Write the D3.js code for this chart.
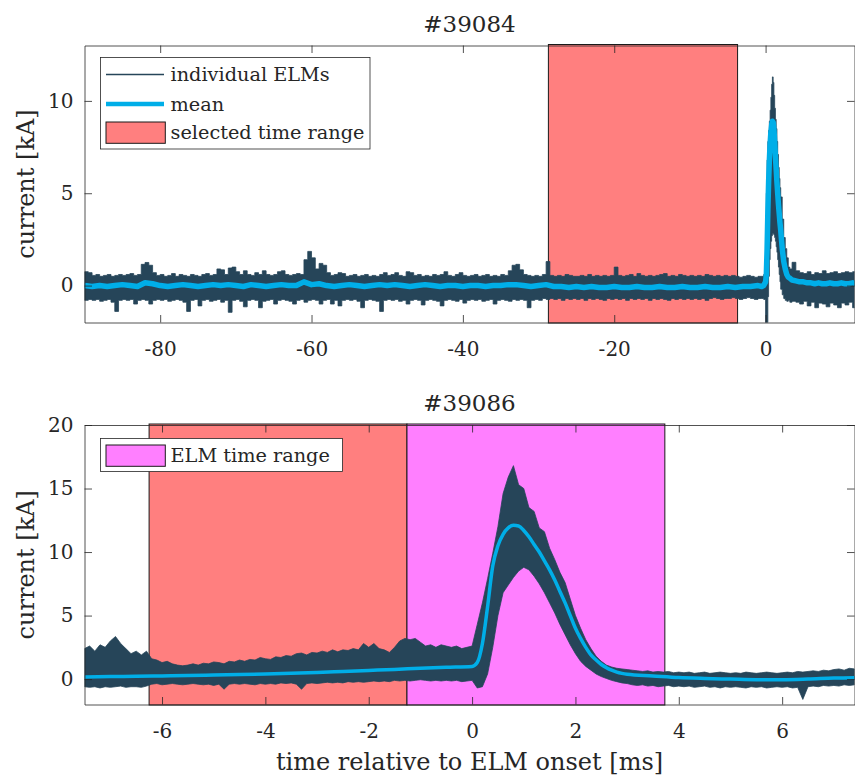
<!DOCTYPE html>
<html>
<head>
<meta charset="utf-8">
<script src="https://cdn.jsdelivr.net/npm/d3@7"></script>
<style>
  body { margin: 0; background: #fff; }
  text { font-family: "DejaVu Serif", serif; fill: #262626; }
</style>
</head>
<body>
<svg id="fig" width="855" height="776"></svg>
<script>
// ---- data: shot #39084 (top) ----
var preT1 = d3.range(-90, -0.75, 0.5);      // -90 .. -1 ms
var meanPreT1 = d3.range(-90, -0.5, 1);     // -90 .. -1 ms
var peakT1 = [-0.5, -0.25, 0, 0.1, 0.2, 0.3, 0.4, 0.5, 0.6, 0.7, 0.8, 0.9, 1.0, 1.1, 1.2, 1.3, 1.4, 1.5, 1.6, 1.7, 1.8, 1.9, 2.0, 2.2, 2.4, 2.6, 2.8, 3.0, 3.2];
var postT1 = d3.range(3.5, 12.25, 0.5);     // 3.5 .. 12 ms

var upperPre1 = [
  0.75, 0.7, 0.55, 0.6, 0.5, 0.55, 0.6, 0.5, 0.55, 0.6,
  0.55, 0.6, 0.65, 0.55, 0.6, 1.15, 1.25, 1.1, 0.7, 0.55,
  0.6, 0.5, 0.55, 0.65, 0.5, 0.6, 0.55, 0.5, 0.6, 0.55,
  0.5, 0.6, 0.65, 0.55, 0.6, 0.9, 0.85, 0.6, 0.95, 1.0,
  0.75, 0.6, 0.8, 0.6, 0.55, 0.7, 0.6, 0.8, 0.6, 0.55,
  0.6, 0.75, 0.8, 0.6, 0.55, 0.6, 0.65, 0.6, 1.4, 1.85,
  1.5, 0.9, 1.2, 1.1, 0.7, 0.55, 0.6, 0.7, 0.65, 0.5,
  0.55, 0.6, 0.5, 0.55, 0.6, 0.5, 0.55, 0.5, 0.6, 0.7,
  0.55, 0.6, 0.7, 0.55, 0.5, 0.75, 0.7, 0.55, 0.6, 0.5,
  0.55, 0.5, 0.6, 0.55, 0.6, 0.75, 0.55, 0.5, 0.6, 0.7,
  0.55, 0.5, 0.55, 0.6, 0.5, 0.55, 0.6, 0.5, 0.55, 0.5,
  0.6, 0.55, 0.8, 1.1, 1.15, 0.85, 0.6, 0.55, 0.5, 0.55,
  0.5, 0.6, 1.3, 0.55, 0.5, 0.55, 0.5, 0.6, 0.55, 0.5,
  0.5, 0.55, 0.5, 0.6, 0.5, 0.55, 0.5, 0.55, 0.5, 0.55,
  1.0, 0.55, 0.5, 0.55, 0.6, 0.5, 0.65, 0.55, 0.5, 0.55,
  0.5, 0.55, 0.6, 0.65, 0.5, 0.55, 0.5, 0.6, 0.55, 0.5,
  0.55, 0.5, 0.55, 0.5, 0.6, 0.55, 0.5, 0.55, 0.5, 0.55,
  0.5, 0.55, 0.5, 0.45, 0.5, 0.55, 0.5, 0.45, 0.5
];
var lowerPre1 = [
  -0.8, -0.75, -0.8, -0.75, -0.85, -0.8, -0.75, -0.9, -1.4, -0.8,
  -0.75, -0.8, -0.75, -1.0, -0.8, -0.75, -0.8, -1.0, -0.8, -0.75,
  -0.8, -0.75, -0.85, -0.8, -0.75, -0.8, -0.9, -1.4, -0.8, -0.75,
  -1.1, -0.8, -0.75, -0.85, -0.8, -0.75, -0.9, -0.8, -1.45, -0.8,
  -0.75, -0.85, -1.15, -0.8, -0.75, -0.8, -1.2, -0.85, -0.8, -0.75,
  -1.0, -0.8, -0.75, -0.8, -0.85, -1.0, -0.8, -0.75, -0.9, -0.8,
  -0.75, -0.8, -1.0, -0.8, -0.75, -1.0, -0.8, -1.1, -0.8, -0.75,
  -0.8, -0.75, -0.85, -1.2, -0.8, -0.75, -0.8, -0.85, -1.4, -0.8,
  -0.75, -0.8, -0.75, -0.85, -0.8, -1.0, -0.8, -0.75, -0.8, -1.05,
  -0.8, -0.75, -0.8, -0.85, -1.1, -0.8, -0.75, -0.8, -0.85, -0.75,
  -0.95, -0.8, -0.75, -0.8, -0.75, -0.85, -0.8, -0.75, -1.0, -0.8,
  -0.75, -0.8, -0.85, -0.75, -0.8, -0.75, -0.8, -1.2, -0.8, -0.75,
  -0.8, -0.7, -0.75, -0.7, -0.75, -0.7, -0.8, -0.7, -0.75, -0.7,
  -0.75, -0.7, -0.8, -0.7, -0.75, -0.7, -0.75, -0.8, -0.7, -0.75,
  -0.7, -0.75, -0.7, -0.8, -0.7, -0.75, -0.7, -0.75, -0.7, -0.8,
  -0.7, -0.75, -0.7, -0.75, -0.8, -0.7, -0.75, -0.7, -0.75, -0.7,
  -0.75, -0.7, -0.75, -0.7, -0.8, -0.7, -0.65, -0.7, -0.75, -0.7,
  -0.7, -0.65, -0.7, -0.75, -0.7, -0.65, -0.7, -0.75, -0.7
];
var meanPre1 = [
  0.0, -0.05, 0.0, -0.05, 0.0, 0.05, 0.0, -0.05, 0.15, 0.1,
  0.0, -0.05, 0.0, 0.05, 0.0, -0.05, 0.0, 0.05, 0.0, 0.05,
  0.0, -0.05, 0.05, 0.0, -0.05, 0.0, 0.05, 0.0, 0.0, 0.2,
  0.05, 0.1, 0.0, -0.05, 0.0, 0.05, 0.0, -0.05, 0.0, 0.05,
  0.0, 0.05, 0.0, -0.05, 0.0, 0.05, 0.0, -0.05, 0.0, 0.0,
  -0.05, 0.0, 0.0, -0.05, 0.0, 0.0, 0.05, 0.05, 0.0, -0.05,
  0.0, 0.05, -0.05, -0.05, -0.1, -0.05, -0.1, -0.05, -0.1, -0.1,
  -0.05, -0.1, -0.1, -0.05, -0.1, -0.1, -0.05, -0.1, -0.1, -0.05,
  -0.1, -0.1, -0.05, -0.1, -0.1, -0.05, -0.1, -0.05, -0.05, 0.0
];
var upperPeak1 = [0.5, 0.6, 2.5, 5.0, 6.8, 7.8, 8.4, 8.9, 9.5, 10.2, 10.9, 11.3, 11.0, 10.3, 9.6, 9.0, 8.5, 7.8, 7.1, 6.4, 5.8, 5.3, 4.8, 3.6, 2.6, 2.0, 1.5, 1.0, 0.9];
var meanPeak1 = [-0.05, 0.0, 0.2, 0.6, 2.0, 4.0, 5.6, 6.8, 7.7, 8.3, 8.7, 8.9, 8.85, 8.5, 7.8, 7.0, 6.3, 5.6, 5.0, 4.4, 3.9, 3.4, 3.0, 2.0, 1.3, 0.9, 0.6, 0.45, 0.4];
var lowerPeak1 = [-0.7, -0.75, -2.6, -2.6, -2.6, -0.6, 0.5, 1.4, 2.0, 2.4, 2.7, 2.8, 2.8, 2.75, 2.6, 2.4, 2.1, 1.8, 1.4, 1.0, 0.6, 0.2, -0.2, -0.5, -0.7, -0.8, -0.85, -0.8, -0.9];
var upperPost1 = [1.26, 0.8, 0.7, 0.65, 0.75, 0.6, 0.7, 0.65, 0.8, 0.65, 0.7, 0.75, 0.65, 0.7, 0.75, 0.7, 0.75, 0.7];
var meanPost1 = [0.3, 0.25, 0.2, 0.2, 0.15, 0.15, 0.1, 0.15, 0.1, 0.1, 0.15, 0.1, 0.1, 0.15, 0.1, 0.1, 0.15, 0.1];
var lowerPost1 = [-0.85, -0.9, -1.0, -0.85, -1.1, -0.9, -1.2, -0.95, -1.0, -1.15, -0.95, -1.05, -1.2, -0.95, -1.05, -0.9, -1.2, -1.0];
var selectedRange1 = [-28.7, -3.7];

// ---- data: shot #39086 (bottom) ----
var preT2 = d3.range(-7.5, -0.05, 0.1);     // -7.5 .. -0.1 ms
var peakT2 = d3.range(0, 3.05, 0.1);        // 0 .. 3.0 ms
var postT2 = d3.range(3.1, 7.45, 0.1);      // 3.1 .. 7.4 ms
var meanPreT2 = d3.range(-7.5, -0.25, 0.5); // -7.5 .. -0.5 ms
var meanPostT2 = d3.range(3.5, 7.75, 0.5);  // 3.5 .. 7.5 ms

var upperPre2 = [
  2.4, 2.6, 2.2, 2.7, 2.5, 3.0, 3.35, 2.8, 2.4, 2.0,
  2.2, 1.9, 2.2, 1.6, 1.5, 1.3, 1.4, 1.2, 1.1, 1.05,
  1.1, 1.2, 1.1, 1.25, 1.2, 1.35, 1.3, 1.2, 1.4, 1.35,
  1.5, 1.4, 1.55, 1.5, 1.7, 1.6, 1.55, 1.75, 1.7, 1.85,
  1.8, 2.0, 2.05, 1.9, 2.1, 2.05, 2.2, 2.1, 2.3, 2.15,
  2.3, 2.25, 2.4, 2.3, 2.8, 2.5, 2.8, 2.4, 2.3, 2.1,
  2.5, 3.0, 3.2, 3.1, 3.2, 2.9, 2.6, 2.7, 2.5, 2.7,
  2.6, 2.5, 2.6, 2.4, 2.5
];
var lowerPre2 = [
  -0.6, -0.65, -0.6, -0.7, -0.6, -0.65, -0.6, -0.55, -0.65, -0.6,
  -0.6, -0.65, -0.55, -0.4, -0.35, -0.45, -0.4, -0.35, -0.4, -0.45,
  -0.4, -0.35, -0.4, -0.45, -0.4, -0.5, -0.4, -0.8, -0.4, -0.35,
  -0.4, -0.35, -0.4, -0.45, -0.35, -0.4, -0.35, -0.4, -0.3, -0.35,
  -0.3, -0.4, -0.8, -0.35, -0.3, -0.35, -0.3, -0.25, -0.3, -0.25,
  -0.3, -0.2, -0.25, -0.2, -0.25, -0.2, -0.15, -0.2, -0.15, -0.2,
  -0.1, -0.15, -0.1, -0.15, -0.1, -0.05, -0.1, -0.15, -0.1, -0.15,
  -0.1, -0.15, -0.1, -0.2, -0.15
];
var meanPre2 = [0.17, 0.2, 0.22, 0.25, 0.28, 0.32, 0.36, 0.4, 0.45, 0.52, 0.6, 0.68, 0.76, 0.85, 0.93];
var upperPeak2 = [2.6, 4.3, 6.0, 7.9, 9.9, 12.0, 14.6, 15.9, 16.8, 15.3, 15.0, 13.5, 13.2, 11.9, 11.6, 10.3, 9.4, 8.4, 7.6, 6.3, 5.0, 4.0, 3.1, 2.4, 1.8, 1.4, 1.1, 0.95, 0.85, 0.8, 0.75];
var meanPeak2 = [1.0, 1.3, 2.8, 5.7, 8.9, 10.5, 11.4, 11.9, 12.1, 12.05, 11.7, 11.2, 10.6, 10.0, 9.3, 8.6, 7.8, 6.9, 6.0, 5.0, 4.0, 3.2, 2.5, 1.9, 1.5, 1.15, 0.9, 0.7, 0.55, 0.45, 0.38];
var lowerPeak2 = [-0.1, -0.7, -0.6, 0.4, 2.5, 5.0, 6.8, 7.4, 8.0, 8.5, 8.8, 8.6, 8.1, 7.5, 6.8, 6.0, 5.2, 4.3, 3.5, 2.7, 2.0, 1.4, 1.0, 0.7, 0.4, 0.2, 0.05, -0.1, -0.2, -0.3, -0.35];
var upperPost2 = [
  0.7, 0.65, 0.6, 0.65, 0.55, 0.6, 0.55, 0.6, 0.5, 0.55,
  0.5, 0.55, 0.45, 0.5, 0.55, 0.45, 0.5, 0.55, 0.5, 0.45,
  0.5, 0.45, 0.55, 0.5, 0.45, 0.5, 0.55, 0.5, 0.45, 0.5,
  0.55, 0.5, 0.6, 0.55, 0.6, 0.65, 0.6, 0.7, 0.65, 0.75,
  0.8, 0.7, 0.85, 0.8
];
var lowerPost2 = [
  -0.45, -0.5, -0.45, -0.55, -0.5, -0.6, -0.55, -0.5, -0.6, -0.55,
  -0.6, -0.55, -0.65, -0.6, -0.55, -0.65, -0.6, -0.7, -0.6, -0.65,
  -0.6, -0.65, -0.7, -0.6, -0.65, -0.6, -0.7, -0.65, -0.6, -0.65,
  -0.6, -0.7, -0.65, -1.6, -0.6, -0.55, -0.6, -0.5, -0.55, -0.5,
  -0.55, -0.45, -0.5, -0.45
];
var meanPost2 = [0.25, 0.12, 0.05, 0.0, -0.05, -0.05, 0.0, 0.08, 0.12];
var selectedRange2 = [-6.25, -1.26];
var elmRange2 = [-1.26, 3.73];

var xTicks1 = [-80, -60, -40, -20, 0];
var yTicks1 = [0, 5, 10];
var xTicks2 = [-6, -4, -2, 0, 2, 4, 6];
var yTicks2 = [0, 5, 10, 15, 20];

// ---- colours ----
var ELM_COLOR = "#264559";
var MEAN_COLOR = "#00aee8";
var SEL_COLOR = "#ff7f7f";
var ELMRANGE_COLOR = "#ff7fff";
var AX_COLOR = "#262626";

function zipBand(t, hi, lo) {
  return t.map(function(d, i) { return { t: d, hi: hi[i], lo: lo[i] }; });
}
function zipLine(t, v) {
  return t.map(function(d, i) { return { t: d, v: v[i] }; });
}

var svg = d3.select("#fig");
var left = 84.5, right = 854.5;

function panel(o) {
  var x = d3.scaleLinear().domain(o.xDomain).range([left, right]);
  var y = d3.scaleLinear().domain(o.yDomain).range([o.bottom, o.top]);
  var g = svg.append("g");

  g.append("clipPath").attr("id", "clip" + o.id)
    .append("rect")
    .attr("x", left).attr("y", o.top)
    .attr("width", right - left).attr("height", o.bottom - o.top);

  // time range patches
  o.ranges.forEach(function(r) {
    g.append("rect")
      .attr("x", x(r.range[0]))
      .attr("y", o.top - 1)
      .attr("width", x(r.range[1]) - x(r.range[0]))
      .attr("height", o.bottom - o.top + 1.5)
      .attr("fill", r.color)
      .attr("stroke", "#1a1a1a")
      .attr("stroke-width", 1);
  });

  var plot = g.append("g").attr("clip-path", "url(#clip" + o.id + ")");

  // envelope of the individual ELMs
  plot.append("path")
    .datum(o.band)
    .attr("d", d3.area()
      .x(function(d) { return x(d.t); })
      .y0(function(d) { return y(d.lo); })
      .y1(function(d) { return y(d.hi); })
      .curve(o.bandCurve))
    .attr("fill", ELM_COLOR)
    .attr("stroke", ELM_COLOR)
    .attr("stroke-width", 0.8);

  // mean
  plot.append("path")
    .datum(o.mean)
    .attr("d", d3.line()
      .x(function(d) { return x(d.t); })
      .y(function(d) { return y(d.v); })
      .curve(o.meanCurve))
    .attr("fill", "none")
    .attr("stroke", MEAN_COLOR)
    .attr("stroke-width", o.meanWidth)
    .attr("stroke-linejoin", "round");

  // axes, ticks pointing inwards on all four sides
  var tk = 7.5;
  var axes = [
    g.append("g").attr("transform", "translate(0," + o.bottom + ")")
      .call(d3.axisBottom(x).tickValues(o.xTicks).tickFormat(function(d) { return String(d); })
        .tickSizeInner(-tk).tickSizeOuter(0).tickPadding(19)),
    g.append("g").attr("transform", "translate(0," + o.top + ")")
      .call(d3.axisTop(x).tickValues(o.xTicks).tickFormat("").tickSizeInner(-tk).tickSizeOuter(0)),
    g.append("g").attr("transform", "translate(" + left + ",0)")
      .call(d3.axisLeft(y).tickValues(o.yTicks).tickFormat(function(d) { return String(d); })
        .tickSizeInner(-tk).tickSizeOuter(0).tickPadding(11)),
    g.append("g").attr("transform", "translate(" + right + ",0)")
      .call(d3.axisRight(y).tickValues(o.yTicks).tickFormat("").tickSizeInner(-tk).tickSizeOuter(0))
  ];
  axes.forEach(function(a) {
    a.attr("font-family", "DejaVu Serif").attr("font-size", 20);
    a.selectAll(".domain, .tick line").attr("stroke", AX_COLOR).attr("stroke-width", 0.8);
    a.selectAll(".tick text").attr("fill", AX_COLOR);
  });

  // title
  g.append("text")
    .attr("x", (left + right) / 2)
    .attr("y", o.titleY)
    .attr("text-anchor", "middle")
    .attr("font-size", 23)
    .text(o.title);

  // y label
  g.append("text")
    .attr("transform", "translate(34," + (o.top + o.bottom) / 2 + ") rotate(-90)")
    .attr("text-anchor", "middle")
    .attr("font-size", 24)
    .text("current [kA]");

  // legend
  var L = o.legend;
  var lg = g.append("g");
  lg.append("rect")
    .attr("x", L.x).attr("y", L.y).attr("width", L.w).attr("height", L.h)
    .attr("fill", "#fff").attr("stroke", AX_COLOR).attr("stroke-width", 0.8);
  L.items.forEach(function(it) {
    if (it.type === "line") {
      lg.append("line")
        .attr("x1", L.x + 5.5).attr("x2", L.x + 63.5)
        .attr("y1", it.y - 6.5).attr("y2", it.y - 6.5)
        .attr("stroke", it.color).attr("stroke-width", it.width);
    } else {
      lg.append("rect")
        .attr("x", L.x + 5.5).attr("y", it.y - 16.5)
        .attr("width", 59.3).attr("height", 21.3)
        .attr("fill", it.color).attr("stroke", "#1a1a1a").attr("stroke-width", 1);
    }
    lg.append("text")
      .attr("x", L.x + 70)
      .attr("y", it.y)
      .attr("font-size", 19.3)
      .text(it.label);
  });
}

panel({
  id: 1,
  top: 45.5, bottom: 322.5,
  xDomain: [-90, 11.75], yDomain: [-2, 13],
  xTicks: xTicks1, yTicks: yTicks1,
  title: "#39084", titleY: 31.5,
  ranges: [{ range: selectedRange1, color: SEL_COLOR }],
  band: zipBand(preT1.concat(peakT1, postT1),
                upperPre1.concat(upperPeak1, upperPost1),
                lowerPre1.concat(lowerPeak1, lowerPost1)),
  bandCurve: d3.curveStepAfter,
  mean: zipLine(meanPreT1.concat(peakT1, postT1), meanPre1.concat(meanPeak1, meanPost1)),
  meanCurve: d3.curveLinear, meanWidth: 5.5,
  legend: {
    x: 100.5, y: 57.5, w: 269.5, h: 91.5,
    items: [
      { type: "line", label: "individual ELMs", color: ELM_COLOR, width: 1.6, y: 81 },
      { type: "line", label: "mean", color: MEAN_COLOR, width: 4.3, y: 110.5 },
      { type: "patch", label: "selected time range", color: SEL_COLOR, y: 138.5 }
    ]
  }
});

panel({
  id: 2,
  top: 425, bottom: 704.5,
  xDomain: [-7.5, 7.4], yDomain: [-2, 20],
  xTicks: xTicks2, yTicks: yTicks2,
  title: "#39086", titleY: 411,
  ranges: [{ range: selectedRange2, color: SEL_COLOR }, { range: elmRange2, color: ELMRANGE_COLOR }],
  band: zipBand(preT2.concat(peakT2, postT2),
                upperPre2.concat(upperPeak2, upperPost2),
                lowerPre2.concat(lowerPeak2, lowerPost2)),
  bandCurve: d3.curveLinear,
  mean: zipLine(meanPreT2.concat(peakT2, meanPostT2), meanPre2.concat(meanPeak2, meanPost2)),
  meanCurve: d3.curveMonotoneX, meanWidth: 3.5,
  legend: {
    x: 100.5, y: 438.5, w: 242, h: 33,
    items: [
      { type: "patch", label: "ELM time range", color: ELMRANGE_COLOR, y: 461.5 }
    ]
  }
});

// x label
svg.append("text")
  .attr("x", (left + right) / 2)
  .attr("y", 770)
  .attr("text-anchor", "middle")
  .attr("font-size", 24)
  .text("time relative to ELM onset [ms]");
</script>
</body>
</html>
